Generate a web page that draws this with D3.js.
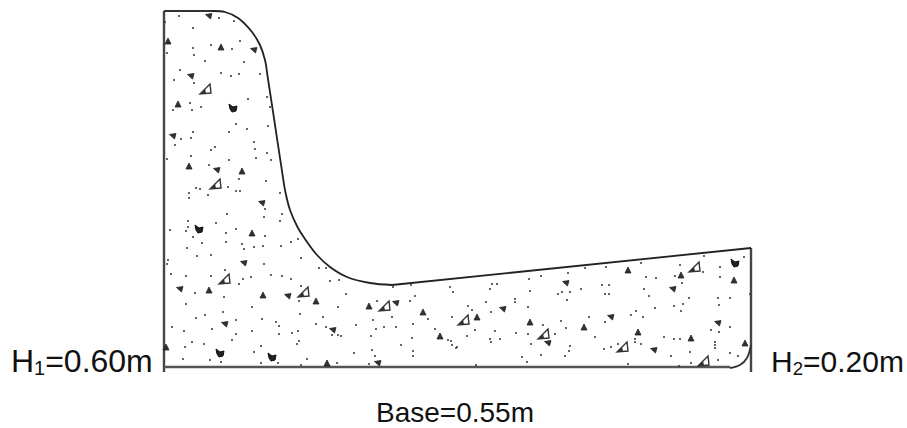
<!DOCTYPE html>
<html>
<head>
<meta charset="utf-8">
<script src="https://cdn.jsdelivr.net/npm/d3@7"></script>
<style>
  html, body { margin: 0; padding: 0; background: #fff; }
  svg { display: block; }
  text { font-family: "Liberation Sans", Arial, sans-serif; fill: #111; }
</style>
</head>
<body>
<div id="chart"></div>
<script>
// all section values are in drawing units: [distance along base, height above base]
const baseLength = 587;   // Base=0.55m
const heelHeight = 357;   // H1=0.60m

const topEdge = [[0, 357], [48, 357]];
const faceProfile = [[48, 357], [61, 356], [74, 350], [88, 336], [96, 323], [101, 308], [104, 289], [111, 243], [118, 197],
  [121, 178], [126, 158], [134, 140], [141, 129], [153, 113], [166, 101], [183, 91], [206, 85], [228, 83]];
const toeSlope = [[228, 83], [587, 120]];
const toeFillet = [[566, 0], [576, 3], [583, 10], [587, 23]];
const heelEdge = [[0, 357], [0, -4]];
const baseEdge = [[0, 1], [566, 1]];
const toeEdge = [[587, 120], [587, -4]];

const labelH1 = ["H", "1", "=0.60m"];
const labelH2 = ["H", "2", "=0.20m"];
const labelBase = "Base=0.55m";

// aggregate stipple
const fines = [[15,352],[55,350],[70,347],[1,346],[29,340],[76,327],[47,323],[29,320],[68,319],[3,315],[30,313],
  [41,307],[80,306],[16,298],[57,295],[75,294],[67,292],[96,294],[10,288],[30,285],[103,271],[106,261],[84,269],
  [26,265],[37,261],[9,258],[28,258],[72,244],[83,239],[104,242],[65,236],[29,236],[27,230],[17,229],[11,223],
  [90,226],[91,219],[51,221],[47,218],[103,215],[27,212],[3,209],[92,210],[107,208],[45,203],[65,208],[75,189],[102,187],
  [32,180],[36,179],[64,181],[72,177],[76,177],[116,175],[25,175],[25,170],[44,173],
  [101,159],[63,154],[118,154],[100,151],[24,147],[116,147],[52,145],[24,141],[22,137],[6,138],[72,139],[62,135],
  [101,132],[29,131],[134,129],[127,126],[38,125],[62,126],[78,124],[80,119],[90,121],[99,122],[117,122],[23,120],
  [33,112],[47,113],[137,110],[4,108],[3,104],[100,104],[155,100],[162,100],[61,98],[7,94],[22,92],[47,92],[107,93],
  [118,92],[87,91],[79,89],[127,89],[166,87],[175,88],[75,84],[137,82],[229,81],[206,85],[247,83],[276,88],[286,81],
  [289,76],[31,75],[182,74],[251,72],[213,67],[246,67],[60,71],[135,67],[22,64],[88,61],[174,61],[59,56],[136,54],
  [41,53],[32,50],[98,49],[72,48],[159,51],[228,51],[209,48],[112,46],[152,44],[115,42],[192,43],[249,44],[288,51],
  [264,49],[8,41],[48,39],[162,41],[220,41],[232,41],[212,39],[271,39],[20,37],[88,37],[115,34],[72,34],[128,35],
  [134,37],[168,33],[174,33],[177,32],[207,32],[248,30],[284,28],[287,27],[68,28],[135,27],[133,24],[28,26],[40,24],
  [21,21],[97,22],[237,23],[288,23],[292,20],[208,18],[90,16],[190,15],[249,17],[249,12],[211,12],[19,9],[46,8],[57,6],
  [143,9],[97,5],[114,5],[137,3],[173,5],[205,4],
  [365,89],[377,92],[404,95],[421,100],[442,101],[477,105],[516,103],[539,96],[556,101],[580,111],[540,112],[482,91],
  [492,90],[511,92],[556,91],[518,85],[328,84],[333,84],[326,79],[366,77],[438,83],[445,83],[417,79],[480,79],[398,76],
  [394,74],[406,76],[441,74],[445,74],[485,72],[525,70],[586,74],[554,70],[403,68],[351,69],[351,66],[322,66],[566,70],
  [519,64],[555,63],[364,61],[510,62],[304,62],[491,60],[517,57],[308,58],[327,56],[472,57],[467,53],[479,51],[425,51],
  [397,47],[441,46],[379,43],[402,40],[566,41],[547,38],[311,38],[331,37],[555,36],[352,35],[364,34],[391,34],[303,32],
  [431,31],[500,31],[326,29],[336,29],[510,29],[516,29],[327,26],[471,29],[471,26],[367,24],[477,24],[454,24],[551,26],
  [551,23],[551,20],[406,22],[447,21],[440,19],[405,17],[526,16],[401,12],[377,13],[507,12],[566,15],[574,12],[358,11],
  [363,6],[527,5],[554,8],[312,3],[464,4],[515,2],[293,21]];
const stonesUp = [[4,327],[57,321],[14,264],[25,202],[78,197],[88,135],[45,78],[99,73],[152,67],[205,62],[259,56],
  [276,32],[2,21],[163,5],[464,98],[517,93],[570,88],[313,51],[366,46],[420,41],[474,36],[527,30],[581,25]];
const stonesSide = [[45,352],[90,318],[27,292],[9,232],[53,198],[98,165],[80,105],[16,79],[124,72],[232,65],[61,44],
  [169,38],[214,5],[402,85],[509,79],[339,59],[447,51],[554,45],[384,25],[490,18]];
const stonesBlob = [[69,260],[35,139],[56,15],[108,11],[571,105]];
const stonesOpen = [[42,279],[52,184],[61,89],[140,76],[221,62],[531,101],[300,48],[380,34],[459,21],[540,7]];

const width = 907;
const height = 428;

const x = d3.scaleLinear().domain([0, baseLength]).range([164, 751]);
const y = d3.scaleLinear().domain([0, heelHeight]).range([368, 11]);

const svg = d3.select("#chart").append("svg")
  .attr("width", width)
  .attr("height", height);

svg.append("defs").append("filter")
  .attr("id", "soft")
  .append("feGaussianBlur")
  .attr("stdDeviation", 0.4);

const drawing = svg.append("g").attr("filter", "url(#soft)");

const line = d3.line().x(d => x(d[0])).y(d => y(d[1]));
const curved = d3.line().x(d => x(d[0])).y(d => y(d[1])).curve(d3.curveCatmullRom.alpha(0.5));

function stroke(path, colour, w) {
  drawing.append("path")
    .attr("d", path)
    .attr("fill", "none")
    .attr("stroke", colour)
    .attr("stroke-width", w);
}

stroke(line(heelEdge), "#444", 2.4);
stroke(line(baseEdge), "#555", 2.6);
stroke(line(toeEdge), "#444", 2.4);
stroke(line(topEdge), "#333", 2);
stroke(curved(faceProfile), "#222", 1.8);
stroke(line(toeSlope), "#222", 1.8);
stroke(curved(toeFillet), "#333", 1.8);

function stones(data, shape, fill, strokeColour, strokeWidth) {
  drawing.append("g").selectAll("path")
    .data(data)
    .join("path")
    .attr("transform", d => "translate(" + x(d[0]) + "," + y(d[1]) + ")")
    .attr("d", shape)
    .attr("fill", fill)
    .attr("stroke", strokeColour)
    .attr("stroke-width", strokeWidth);
}

drawing.append("g").selectAll("circle")
  .data(fines)
  .join("circle")
  .attr("cx", d => x(d[0]))
  .attr("cy", d => y(d[1]))
  .attr("r", 1)
  .attr("fill", "#333");

stones(stonesUp, "M0,-3L3,3L-3,3Z", "#333", "#222", 0.8);
stones(stonesSide, "M-3.5,-1.5L3,-2.5L1.5,3Z", "#333", "#222", 0.8);
stones(stonesBlob, "M-4,-4L0,-1L4,-2L3,3L-1,4L-3,1Z", "#222", "#111", 1);
stones(stonesOpen, "M-6,5L4,-5L5,4Z", "none", "#333", 1.4);
stones(stonesOpen, "M-6,5L-1,0L0,4Z", "#333", "none", 0);

// labels
function subLabel(parts, px, py, size) {
  const t = svg.append("text")
    .attr("x", px)
    .attr("y", py)
    .attr("font-size", size);
  t.append("tspan").text(parts[0]);
  t.append("tspan").attr("font-size", size * 0.62).attr("dy", 3).text(parts[1]);
  t.append("tspan").attr("dy", -3).text(parts[2]);
}

subLabel(labelH1, 11, 372, 32);
subLabel(labelH2, 771, 372, 30);

svg.append("text")
  .attr("x", 376)
  .attr("y", 422)
  .attr("font-size", 28)
  .text(labelBase);
</script>
</body>
</html>
